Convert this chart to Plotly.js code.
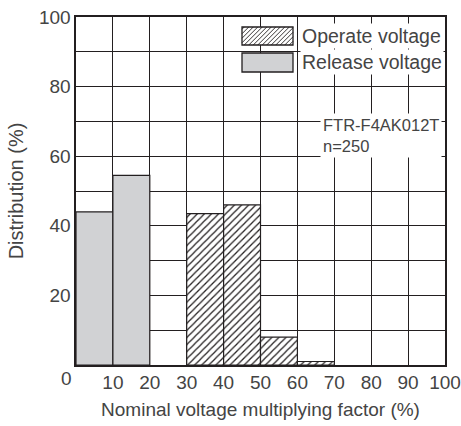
<!DOCTYPE html>
<html><head><meta charset="utf-8">
<script src="https://cdn.plot.ly/plotly-3.0.1.min.js"></script>
<style>html,body{margin:0;padding:0;background:#fff}</style>
</head><body><div id="chart" style="width:461px;height:426px"></div>
<script>
// Data
const releaseBins = [5, 15];          // bin centres (%)
const releaseValues = [44, 54.5];     // distribution (%)
const operateBins = [35, 45, 55, 65];
const operateValues = [43.5, 46, 8, 1];
const xTickVals = [0,10,20,30,40,50,60,70,80,90,100];
const xTickText = ['', '10','20','30','40','50','60','70','80','90','100'];
const yTickVals = [10,20,30,40,50,60,70,80,90,100];
const yTickText = ['', '20','','40','','60','','80','','100'];
const binWidth = 10;

const W = 461, H = 426;
const M = {l:76, r:16, t:17, b:61};
const PW = W - M.l - M.r, PH = H - M.t - M.b;
const px2x = p => (p - M.l) / PW;
const py2y = p => (H - M.b - p) / PH;

const ink = '#231f20';
const txt = '#444';
const FONT = '"Liberation Sans Narrow", "Liberation Sans", sans-serif';

const traces = [
  {type:'bar', name:'Release voltage', x:releaseBins, y:releaseValues, width:binWidth,
   marker:{color:'#d1d2d4', line:{color:ink, width:1.2}}, showlegend:false, hoverinfo:'skip'},
  {type:'bar', name:'Operate voltage', x:operateBins, y:operateValues, width:binWidth,
   marker:{color:'#fff', line:{color:ink, width:1.2},
     pattern:{shape:'/', fgcolor:ink, bgcolor:'#fff', size:5, solidity:0.25}},
   showlegend:false, hoverinfo:'skip'}
];

// Legend swatch hatch path (pixel geometry -> paper)
function hatchPath(x0, y0, x1, y1, step){
  let d = '';
  for (let c = x0 + y0 + step/2; c < x1 + y1; c += step){
    let pts = [];
    let py = c - x0; if (py >= y0 && py <= y1) pts.push([x0, py]);
    py = c - x1; if (py >= y0 && py <= y1) pts.push([x1, py]);
    let px = c - y0; if (px > x0 && px < x1) pts.push([px, y0]);
    px = c - y1; if (px > x0 && px < x1) pts.push([px, y1]);
    if (pts.length >= 2){
      d += `M${px2x(pts[0][0])},${py2y(pts[0][1])}L${px2x(pts[1][0])},${py2y(pts[1][1])}`;
    }
  }
  return d;
}

const sw = {x0:242, x1:293};
const shapes = [
  {type:'rect', xref:'paper', yref:'paper', x0:px2x(sw.x0), x1:px2x(sw.x1), y0:py2y(45), y1:py2y(27),
   fillcolor:'#fff', line:{color:ink, width:1.3}, layer:'above'},
  {type:'path', xref:'paper', yref:'paper', path:hatchPath(sw.x0, 27, sw.x1, 45, 4.5),
   line:{color:ink, width:0.9}, layer:'above'},
  {type:'rect', xref:'paper', yref:'paper', x0:px2x(sw.x0), x1:px2x(sw.x1), y0:py2y(72), y1:py2y(53),
   fillcolor:'#d1d2d4', line:{color:ink, width:1.3}, layer:'above'}
];

const annotations = [
  {xref:'paper', yref:'paper', x:px2x(300), y:py2y(36), xanchor:'left', yanchor:'middle',
   text:'Operate voltage', showarrow:false, bgcolor:'#fff', borderpad:1,
   font:{family:FONT, size:19.5, color:txt}},
  {xref:'paper', yref:'paper', x:px2x(300), y:py2y(62), xanchor:'left', yanchor:'middle',
   text:'Release voltage', showarrow:false, bgcolor:'#fff', borderpad:1,
   font:{family:FONT, size:19.5, color:txt}},
  {xref:'paper', yref:'paper', x:px2x(320), y:py2y(135), xanchor:'left', yanchor:'middle',
   text:'FTR-F4AK012T<br>n=250', align:'left', showarrow:false, bgcolor:'#fff', borderpad:2,
   font:{family:FONT, size:16.5, color:txt}},
  {xref:'paper', yref:'paper', x:px2x(66), y:py2y(379), xanchor:'center', yanchor:'middle',
   text:'0', showarrow:false, font:{family:FONT, size:19, color:txt}}
];

const layout = {
  width:W, height:H, margin:M, paper_bgcolor:'#fff', plot_bgcolor:'#fff',
  font:{family:FONT, size:19, color:txt},
  bargap:0,
  xaxis:{range:[0,100], tickvals:xTickVals, ticktext:xTickText, ticks:'', showgrid:true,
    ticklabeloverflow:'allow',
    gridcolor:ink, gridwidth:1, showline:true, linecolor:ink, linewidth:1.6, mirror:true,
    zeroline:false, tickfont:{family:FONT, size:19, color:txt},
    title:{text:'Nominal voltage multiplying factor (%)', font:{family:FONT, size:19, color:txt}, standoff:10}},
  yaxis:{range:[0,100], tickvals:yTickVals, ticktext:yTickText, ticks:'', showgrid:true,
    gridcolor:ink, gridwidth:1, showline:true, linecolor:ink, linewidth:1.6, mirror:true,
    zeroline:false, tickfont:{family:FONT, size:19, color:txt},
    title:{text:'Distribution (%)', font:{family:FONT, size:20, color:txt}, standoff:10}},
  shapes, annotations, showlegend:false
};

Plotly.newPlot('chart', traces, layout, {staticPlot:true, displayModeBar:false});
</script></body></html>
